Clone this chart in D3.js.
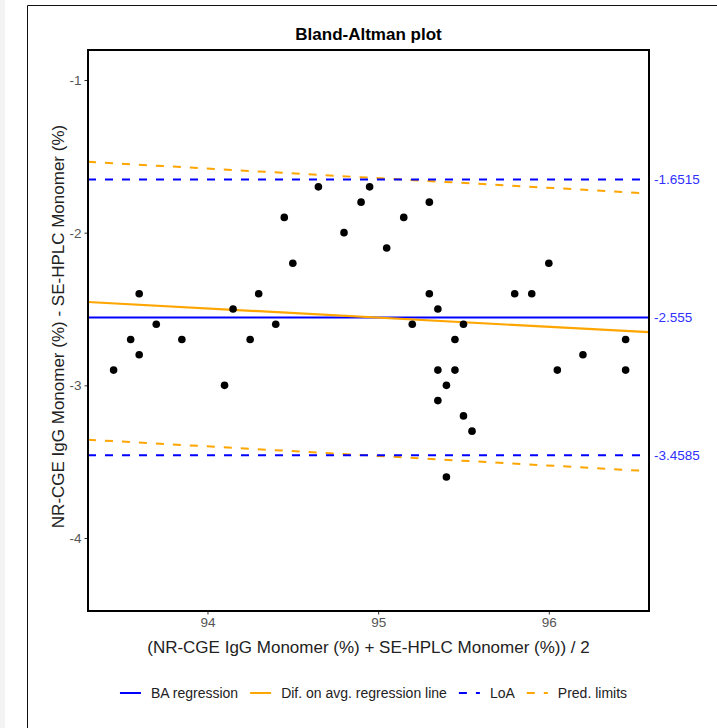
<!DOCTYPE html>
<html>
<head>
<meta charset="utf-8">
<script src="https://cdn.jsdelivr.net/npm/d3@7"></script>
<style>
  body { margin: 0; background: #fff; }
  svg { font-family: "Liberation Sans", Arial, sans-serif; }
</style>
</head>
<body>
<div id="my_dataviz"></div>
<script>
// data: average of the two methods and their difference
var avgValues = [93.45, 93.55, 93.60, 93.60, 93.70, 93.85, 94.10, 94.15, 94.25, 94.30,
                 94.40, 94.45, 94.50, 94.65, 94.80, 94.90, 94.95, 95.05, 95.15, 95.20,
                 95.30, 95.30, 95.35, 95.35, 95.35, 95.40, 95.40, 95.45, 95.45, 95.50,
                 95.50, 95.55, 95.80, 95.90, 96.00, 96.05, 96.20, 96.45, 96.45];
var diffValues = [-2.9, -2.7, -2.4, -2.8, -2.6, -2.7, -3.0, -2.5, -2.7, -2.4,
                  -2.6, -1.9, -2.2, -1.7, -2.0, -1.8, -1.7, -2.1, -1.9, -2.6,
                  -1.8, -2.4, -2.5, -2.9, -3.1, -3.0, -3.6, -2.7, -2.9, -2.6,
                  -3.2, -3.3, -2.4, -2.4, -2.2, -2.9, -2.8, -2.7, -2.9];

// BA regression (mean difference) and limits of agreement
var baMean = -2.555;
var loaValues = [-1.6515, -3.4585];

// regression of the difference on the average, and its prediction limits (at x ends)
var regX = [93.3, 96.587];
var regY = [-2.454, -2.652];
var predUpperY = [-1.536, -1.743];
var predLowerY = [-3.356, -3.562];

var xTicks = [94, 95, 96];
var yTicks = [-1, -2, -3, -4];
var xDomain = [93.3, 96.587];
var yDomain = [-4.478, -0.8035];

var legendItems = [
  {label: "BA regression", color: "blue", dash: null},
  {label: "Dif. on avg. regression line", color: "orange", dash: null},
  {label: "LoA", color: "blue", dash: "8,9"},
  {label: "Pred. limits", color: "orange", dash: "8,9"}
];

var data = avgValues.map(function(d, i) { return {avg: d, diff: diffValues[i]}; });

// set the dimensions and margins of the graph
var W = 717, H = 728;
var margin = {top: 50, right: 68, bottom: 117, left: 88};
var width = W - margin.left - margin.right,
    height = H - margin.top - margin.bottom;

var root = d3.select("#my_dataviz")
  .append("svg")
    .attr("width", W)
    .attr("height", H);

// screenshot frame
root.append("rect")
  .attr("x", 0).attr("y", 0)
  .attr("width", 5).attr("height", H)
  .attr("fill", "#f3f3f3");
root.append("path")
  .attr("d", "M27.5," + H + "V5.5H" + W)
  .attr("fill", "none")
  .attr("stroke", "#111")
  .attr("stroke-width", 1);

// title
root.append("text")
  .attr("x", margin.left + width / 2)
  .attr("y", 40)
  .attr("text-anchor", "middle")
  .style("font-size", "17px")
  .style("font-weight", "bold")
  .text("Bland-Altman plot");

var svg = root.append("g")
  .attr("transform", "translate(" + margin.left + "," + margin.top + ")");

var x = d3.scaleLinear().domain(xDomain).range([0, width]);
var y = d3.scaleLinear().domain(yDomain).range([height, 0]);

svg.append("clipPath").attr("id", "clip")
  .append("rect").attr("width", width).attr("height", height);

var plot = svg.append("g").attr("clip-path", "url(#clip)");

// Add X axis
var xAxis = svg.append("g")
  .attr("transform", "translate(0," + height + ")")
  .call(d3.axisBottom(x).tickValues(xTicks).tickSize(3.5).tickPadding(3).tickFormat(d => String(d)));
xAxis.select(".domain").remove();
xAxis.selectAll("line").attr("stroke", "#333");
xAxis.selectAll("text")
  .attr("fill", "#555")
  .style("font-size", "13.5px")
  .style("font-family", "Liberation Sans, Arial, sans-serif");

// Add Y axis
var yAxis = svg.append("g")
  .call(d3.axisLeft(y).tickValues(yTicks).tickSize(3.5).tickPadding(3).tickFormat(d => String(d)));
yAxis.select(".domain").remove();
yAxis.selectAll("line").attr("stroke", "#333");
yAxis.selectAll("text")
  .attr("fill", "#555")
  .style("font-size", "13.5px")
  .style("font-family", "Liberation Sans, Arial, sans-serif");

// axis titles
svg.append("text")
  .attr("x", width / 2)
  .attr("y", height + 42)
  .attr("text-anchor", "middle")
  .attr("fill", "#222")
  .style("font-size", "17px")
  .text("(NR-CGE IgG Monomer (%) + SE-HPLC Monomer (%)) / 2");

svg.append("text")
  .attr("transform", "translate(-24," + (height / 2 - 4) + ") rotate(-90)")
  .attr("text-anchor", "middle")
  .attr("fill", "#222")
  .style("font-size", "17px")
  .text("NR-CGE IgG Monomer (%) - SE-HPLC Monomer (%)");

// line generator over the x extent
const line = d3.line()
  .x(d => x(d[0]))
  .y(d => y(d[1]));

// pred limits (orange dashed)
[predUpperY, predLowerY].forEach(function(p) {
  plot.append("path")
    .datum(regX.map((v, i) => [v, p[i]]))
    .attr("fill", "none")
    .attr("stroke", "orange")
    .attr("stroke-width", 2)
    .attr("stroke-dasharray", "8,9")
    .attr("d", line);
});

// LoA (blue dashed)
plot.selectAll(".loa")
  .data(loaValues)
  .join("line")
  .attr("class", "loa")
  .attr("x1", 0).attr("x2", width)
  .attr("y1", d => y(d)).attr("y2", d => y(d))
  .attr("stroke", "blue")
  .attr("stroke-width", 2)
  .attr("stroke-dasharray", "8,9");

// BA regression (blue solid)
plot.append("line")
  .attr("x1", 0).attr("x2", width)
  .attr("y1", y(baMean)).attr("y2", y(baMean))
  .attr("stroke", "blue")
  .attr("stroke-width", 2);

// difference on average regression line (orange solid)
plot.append("path")
  .datum(regX.map((v, i) => [v, regY[i]]))
  .attr("fill", "none")
  .attr("stroke", "orange")
  .attr("stroke-width", 2.2)
  .attr("d", line);

// points
plot.selectAll("circle")
  .data(data)
  .join("circle")
  .attr("cx", d => x(d.avg))
  .attr("cy", d => y(d.diff))
  .attr("r", 3.8)
  .attr("fill", "black");

// panel border
svg.append("rect")
  .attr("width", width)
  .attr("height", height)
  .attr("fill", "none")
  .attr("stroke", "black")
  .attr("stroke-width", 2);

// LoA / mean labels on the right
svg.selectAll(".loaLabel")
  .data([loaValues[0], baMean, loaValues[1]])
  .join("text")
  .attr("class", "loaLabel")
  .attr("x", width + 5)
  .attr("y", d => y(d))
  .attr("dy", "0.35em")
  .attr("fill", "#3030ff")
  .style("font-size", "13.5px")
  .text(d => d);

// legend
var legend = root.append("g").attr("transform", "translate(0,693)");
var xPos = 0;
var items = legend.selectAll("g")
  .data(legendItems)
  .join("g");
items.append("line")
  .attr("x1", 0).attr("x2", 21)
  .attr("stroke", d => d.color)
  .attr("stroke-width", 2)
  .attr("stroke-dasharray", d => d.dash);
items.append("text")
  .attr("x", 31)
  .attr("dy", "0.35em")
  .attr("fill", "#222")
  .style("font-size", "14px")
  .text(d => d.label);
items.each(function() {
  var w = d3.select(this).select("text").node().getComputedTextLength();
  d3.select(this).attr("transform", "translate(" + xPos + ",0)");
  xPos += 31 + w + 12;
});
var totalW = xPos - 12;
legend.attr("transform", "translate(" + (373.5 - totalW / 2) + ",693)");
</script>
</body>
</html>
